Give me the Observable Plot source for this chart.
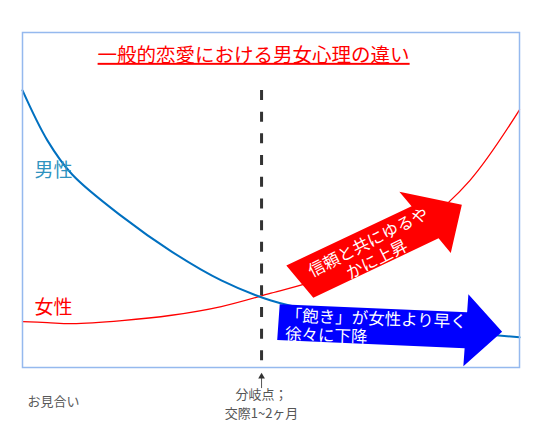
<!DOCTYPE html>
<html><head><meta charset="utf-8">
<script src="https://cdn.jsdelivr.net/npm/d3@7"></script>
<script src="https://cdn.jsdelivr.net/npm/@observablehq/plot@0.6"></script>
<style>body{margin:0;background:#fff}</style>
</head><body><div id="chart"></div>
<script>
// time axis (relative position along the relationship) and feeling level
const xs = [0, 5, 10, 20, 30, 40, 50, 60, 70, 80, 90, 100];
const maleValues = [82.7, 67.8, 57.6, 45.1, 34.6, 26.0, 20.0, 16.5, 13.9, 11.8, 10.3, 9.0];
const femaleValues = [13.7, 13.4, 13.1, 14.0, 15.6, 18.2, 22.2, 26.4, 32.4, 42.1, 55.8, 76.9];
const seriesNames = ["男性", "女性"];
const titleText = "一般的恋愛における男女心理の違い";
const startLabel = "お見合い";
const turnLabels = ["分岐点；", "交際1~2ヶ月"];
const turnX = 48.1;
const riseText = "信頼と共にゆるや\nかに上昇";
const fallText = "「飽き」が女性より早く\n徐々に下降";
const riseArrow = {x1: 55.9, y1: 25.5, x2: 88.5, y2: 48.4};
const fallArrow = {x1: 51.6, y1: 13.4, x2: 96.6, y2: 10.5};

const male = xs.map((x, i) => ({x, y: maleValues[i]}));
const female = xs.map((x, i) => ({x, y: femaleValues[i]}));

const FONT = "'Noto Sans CJK JP', 'Noto Sans', sans-serif";

function blockArrow(a, opts) {
  return (index, scales) => {
    const X = scales.x, Y = scales.y;
    const tx = X(a.x1), ty = Y(a.y1), px = X(a.x2), py = Y(a.y2);
    const hx = tx + (px - tx) * opts.neck, hy = ty + (py - ty) * opts.neck;
    const ang = opts.edge * Math.PI / 180;
    const cx = Math.cos(ang), cy = Math.sin(ang);
    const w = opts.body, h = opts.head;
    const pts = [
      [tx - w * cx, ty - w * cy], [hx - w * cx, hy - w * cy], [hx - h * cx, hy - h * cy],
      [px, py],
      [hx + h * cx, hy + h * cy], [hx + w * cx, hy + w * cy], [tx + w * cx, ty + w * cy]
    ];
    const g = d3.create("svg:g");
    g.append("path").attr("d", "M" + pts.map(p => p.join(",")).join("L") + "Z").attr("fill", opts.fill);
    return g.node();
  };
}

const chart = Plot.plot({
  width: 558,
  height: 428,
  marginLeft: 22,
  marginRight: 39,
  marginTop: 32,
  marginBottom: 61,
  style: {fontFamily: FONT, background: "#fff"},
  x: {domain: [0, 100], axis: null},
  y: {domain: [0, 100], axis: null},
  marks: [
    Plot.line(female, {x: "x", y: "y", stroke: "#ff0000", strokeWidth: 1.3, curve: "catmull-rom"}),
    Plot.line(male, {x: "x", y: "y", stroke: "#0070c0", strokeWidth: 2, curve: "catmull-rom"}),
    Plot.ruleX([turnX], {y1: 82.7, y2: 0, stroke: "#333", strokeWidth: 3, strokeDasharray: "10,11.7"}),
    blockArrow(riseArrow, {neck: 0.773, edge: 50, body: 21, head: 40, fill: "#ff0000"}),
    blockArrow(fallArrow, {neck: 0.838, edge: 94, body: 18, head: 36, fill: "#0000ff"}),
    Plot.text([riseText], {x: 70.4, y: 34.9, text: d => d, rotate: -27, fill: "#fff", fontSize: 16.5, lineHeight: 1.15, fontFamily: FONT}),
    Plot.text([fallText], {x: 52.9, y: 12.8, text: d => d, rotate: 2, textAnchor: "start", fill: "#fff", fontSize: 16.5, lineHeight: 1.12, fontFamily: FONT}),
    Plot.text([seriesNames[0]], {x: 2.4, y: 58.8, text: d => d, textAnchor: "start", fill: "#2f93c0", fontSize: 19, fontFamily: FONT}),
    Plot.text([seriesNames[1]], {x: 2.4, y: 17.9, text: d => d, textAnchor: "start", fill: "#ff0000", fontSize: 19, fontFamily: FONT}),
    Plot.text([titleText], {x: 46.5, y: 93.1, text: d => d, fill: "#ff0000", fontSize: 19.5, fontFamily: FONT}),
    Plot.text([startLabel], {x: 1.0, y: -10.1, text: d => d, textAnchor: "start", fill: "#595959", fontSize: 13, fontFamily: FONT}),
    Plot.text([turnLabels[0]], {x: turnX, y: -8.2, text: d => d, fill: "#555", fontSize: 13, fontFamily: FONT}),
    Plot.text([turnLabels[1]], {x: turnX, y: -13.9, text: d => d, fill: "#555", fontSize: 13, fontFamily: FONT}),
    Plot.ruleX([turnX], {y1: -3.3, y2: -6.3, stroke: "#555", strokeWidth: 1}),
    Plot.dot([turnX], {x: d => d, y: -2.7, symbol: "triangle", r: 2.5, fill: "#333", stroke: null}),
    Plot.frame({stroke: "#95b9ee", strokeWidth: 1.5})
  ]
});

d3.select(chart).selectAll("text").filter(function () { return this.textContent === titleText; })
  .attr("text-decoration", "underline");

document.getElementById("chart").appendChild(chart);
</script>
</body></html>
